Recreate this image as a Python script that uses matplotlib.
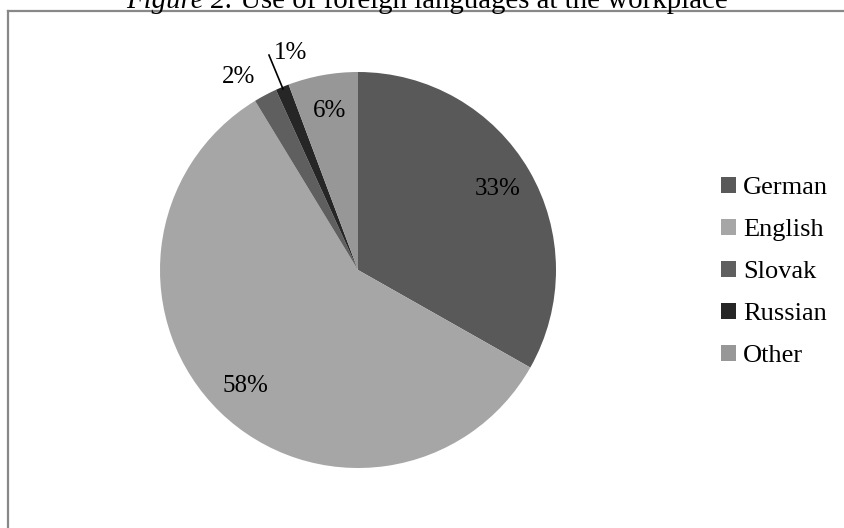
import numpy as np
import matplotlib
matplotlib.use("Agg")
import matplotlib.pyplot as plt
from matplotlib.patches import Patch
from matplotlib.lines import Line2D

languages = ["German", "English", "Slovak", "Russian", "Other"]
shares = [33.2, 58.1, 1.9, 1.1, 5.7]
colors = ["#595959", "#a6a6a6", "#5f5f5f", "#262626", "#979797"]

plt.rcParams['font.family'] = ['Liberation Serif', 'DejaVu Serif']

W, H = 845, 528
fig = plt.figure(figsize=(W / 100, H / 100), dpi=100)

# frame
fc = "#888888"
fig.add_artist(Line2D([8.5 / W, 1.01], [1 - 11 / H, 1 - 11 / H], color=fc, lw=1.6, transform=fig.transFigure))
fig.add_artist(Line2D([8.5 / W, 8.5 / W], [1 - 11 / H, -0.01], color=fc, lw=1.6, transform=fig.transFigure))

# title
title_it = "Figure 2."
title_rest = " Use of foreign languages at the workplace"
tfs = 20.8
fig.canvas.draw()
r = fig.canvas.get_renderer()
ti = fig.text(0, 1 - 8 / H, title_it, fontsize=tfs, style="italic", va="baseline")
tr = fig.text(0, 1 - 8 / H, title_rest, fontsize=tfs, va="baseline")
wi = ti.get_window_extent(r).width
wr = tr.get_window_extent(r).width
x0 = 427 - (wi + wr) / 2
ti.set_x(x0 / W)
tr.set_x((x0 + wi) / W)

# pie
cx, cy, rad = 358, 270, 198
ax = fig.add_axes([(cx - rad) / W, (H - cy - rad) / H, 2 * rad / W, 2 * rad / H])
wedges, _ = ax.pie(shares, colors=colors, startangle=90, counterclock=False,
                   wedgeprops=dict(linewidth=0))
ax.set_xlim(-1, 1)
ax.set_ylim(-1, 1)
ax.set_aspect("equal")
ax.axis("off")

fs = 18
for i, (w, s) in enumerate(zip(wedges, shares)):
    mid = np.deg2rad((w.theta1 + w.theta2) / 2)
    lab = f"{s:.0f}%"
    if languages[i] == "Slovak":
        ang = mid + np.deg2rad(3.8)
        ax.text(1.145 * np.cos(ang), 1.145 * np.sin(ang), lab, fontsize=fs, ha="center", va="center")
    elif languages[i] == "Russian":
        x1, y1 = 0.99 * np.cos(mid), 0.99 * np.sin(mid)
        x2, y2 = 1.175 * np.cos(mid), 1.175 * np.sin(mid)
        ax.plot([x1, x2], [y1, y2], color="black", lw=1.2, clip_on=False)
        ax.text(x2 + 0.025, y2 + 0.01, lab, fontsize=fs, ha="left", va="center")
    else:
        ax.text(0.815 * np.cos(mid), 0.815 * np.sin(mid), lab, fontsize=fs, ha="center", va="center")

lfs = 19
handles = [Patch(facecolor=c, edgecolor="none") for c in colors]
fig.legend(handles, languages, loc="center left", bbox_to_anchor=(721.5 / W, 1 - 272 / H),
           frameon=False, fontsize=lfs, handlelength=0.54, handleheight=0.54,
           handletextpad=0.27, labelspacing=0.75, borderpad=0, borderaxespad=0)

fig.savefig("out.png", dpi=100)
